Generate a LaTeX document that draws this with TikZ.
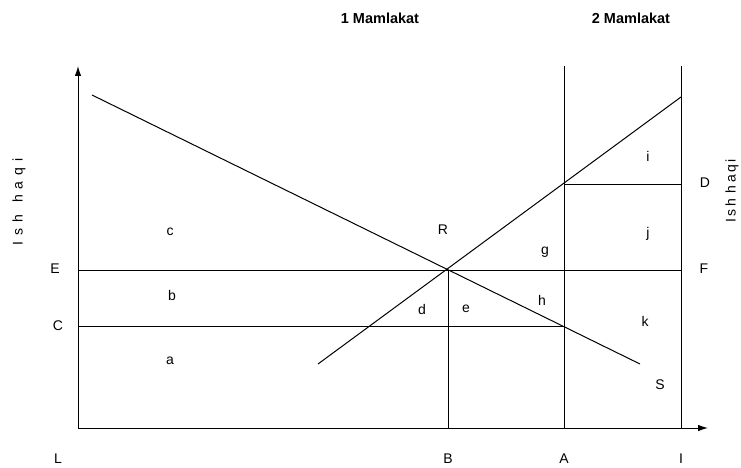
\documentclass[tikz,border=0pt]{standalone}
\usepackage{fontspec}
\setmainfont{Liberation Sans}
\usetikzlibrary{arrows.meta}
\newcommand{\spacedL}{I\hspace{6pt}s\hspace{6pt}h\hspace{12pt}h\hspace{6pt}a\hspace{6pt}q\hspace{6pt}i}
\newcommand{\spacedR}{I\hspace{2.5pt}s\hspace{2.5pt}h\hspace{6pt}h\hspace{2.5pt}a\hspace{2.5pt}q\hspace{2.5pt}i}
\begin{document}
\begin{tikzpicture}[x=1pt,y=-1pt,
  ln/.style={line width=1pt,black},
  ax/.style={line width=1pt,black,-{Latex[length=10pt,width=6.5pt]}},
  lbl/.style={font=\fontsize{14}{16}\selectfont,inner sep=0pt},
  ttl/.style={font=\fontsize{14.5}{17}\selectfont\bfseries,inner sep=0pt}]
\useasboundingbox (0,0) rectangle (741,468);
\fill[white] (0,0) rectangle (741,468);
% coordinates
\coordinate (O) at (78,428);
\coordinate (Ytop) at (78,66);
\coordinate (Xend) at (708,428);
\coordinate (Bb) at (448,428);
\coordinate (Ab) at (564,428);
\coordinate (Ib) at (681,428);
\coordinate (At) at (564,66);
\coordinate (It) at (681,66);
\coordinate (Rp) at (448,270);
\coordinate (El) at (78,270);
\coordinate (Fr) at (681,270);
\coordinate (Cl) at (78,326);
\coordinate (Cr) at (564,326);
\coordinate (Dl) at (564,184);
\coordinate (Dr) at (681,184);
\coordinate (S1) at (92,95);
\coordinate (S2) at (640,364);
\coordinate (P1) at (318,364);
\coordinate (P2) at (681,97);
% axes
\draw[ax] (O) -- (Ytop);
\draw[ax] (O) -- (Xend);
% verticals
\draw[ln] (Bb) -- (Rp);
\draw[ln] (Ab) -- (At);
\draw[ln] (Ib) -- (It);
% horizontals
\draw[ln] (El) -- (Fr);
\draw[ln] (Cl) -- (Cr);
\draw[ln] (Dl) -- (Dr);
% curves
\draw[ln] (S1) -- (S2);
\draw[ln] (P1) -- (P2);
% titles
\node[ttl] (t1) at (380,18) {1 Mamlakat};
\node[ttl] (t2) at (631,18) {2 Mamlakat};
% axis titles
\node[lbl,rotate=90] (yl) at (19,202) {\spacedL};
\node[lbl,rotate=90] (yr) at (732,191) {\spacedR};
% labels
\node[lbl] (lc) at (170,232) {c};
\node[lbl] (lR) at (443,230) {R};
\node[lbl] (lg) at (545,252) {g};
\node[lbl] (lj) at (648,234) {j};
\node[lbl] (li) at (648,156) {i};
\node[lbl] (lD) at (705,183) {D};
\node[lbl] (lF) at (704,269) {F};
\node[lbl] (lE) at (55,269) {E};
\node[lbl] (lC) at (58,326) {C};
\node[lbl] (lb) at (172,295) {b};
\node[lbl] (la) at (170,361) {a};
\node[lbl] (ld) at (422,309) {d};
\node[lbl] (le) at (466,309) {e};
\node[lbl] (lh) at (542,300) {h};
\node[lbl] (lk) at (645,321) {k};
\node[lbl] (lS) at (660,385) {S};
\node[lbl] (lL) at (58,459) {L};
\node[lbl] (lB) at (448,459) {B};
\node[lbl] (lA) at (564,459) {A};
\node[lbl] (lI) at (681,459) {I};
\end{tikzpicture}
\end{document}
